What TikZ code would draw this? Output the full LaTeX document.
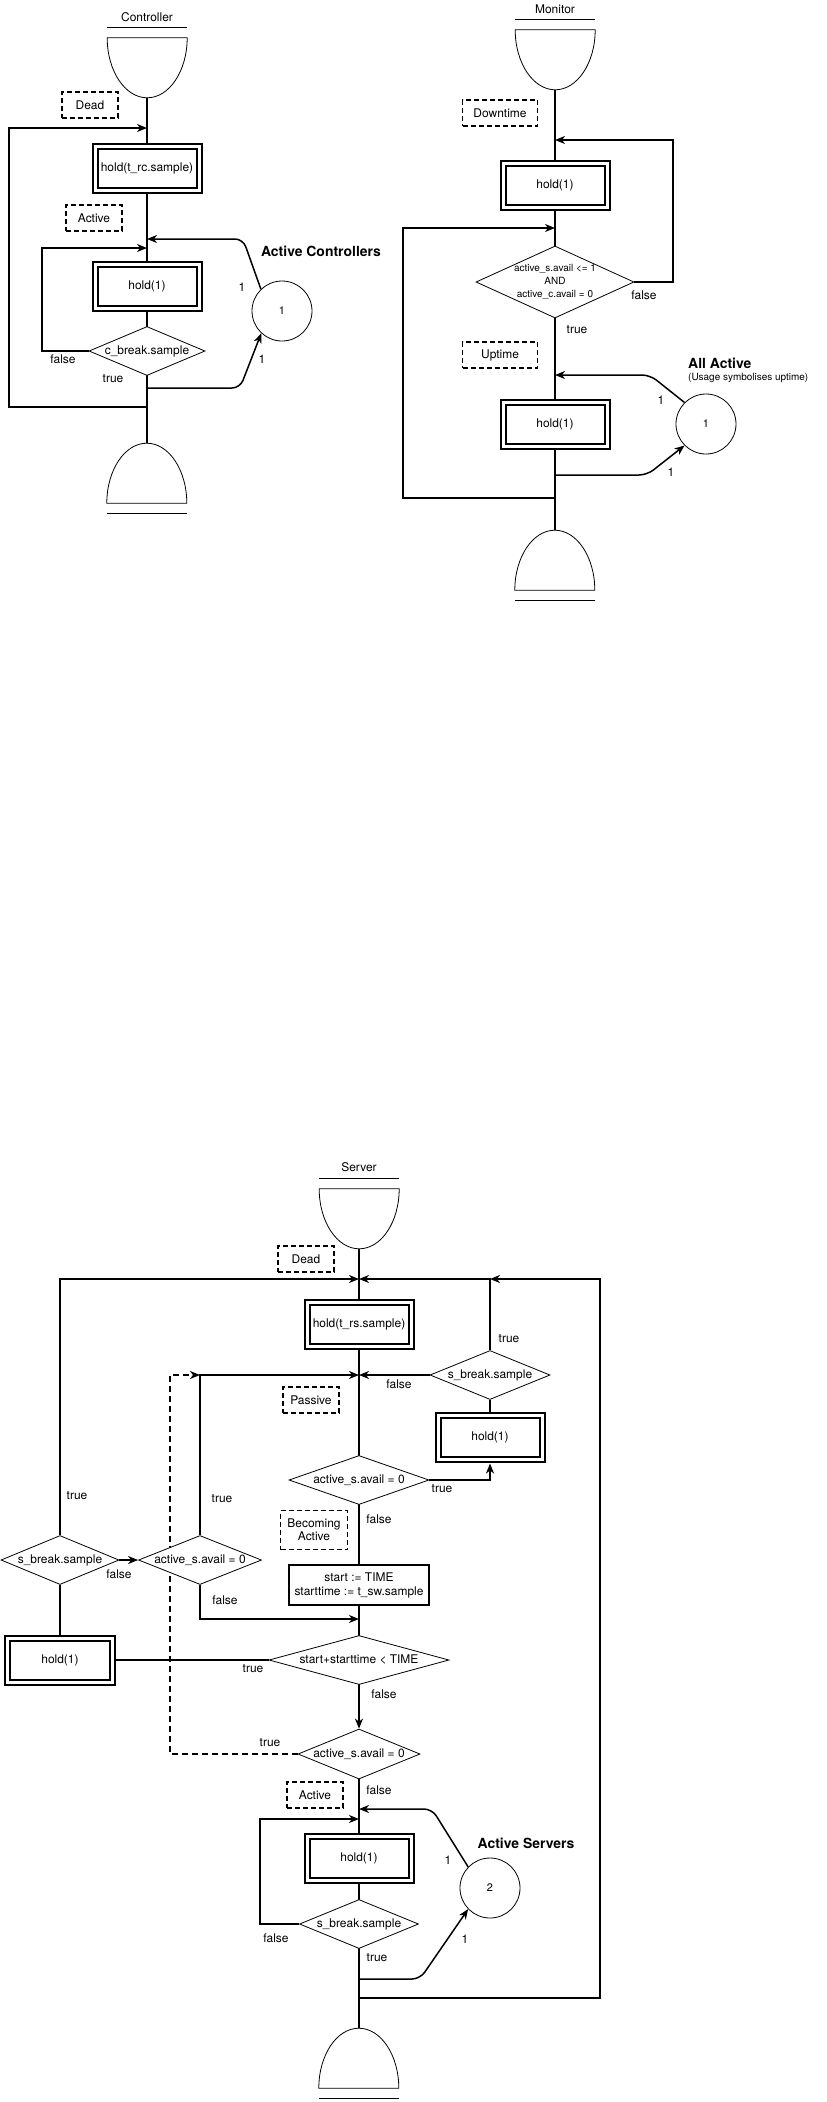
\documentclass[tikz,border=0pt]{standalone}
\usepackage{fontspec}
\setmainfont{TeX Gyre Heros}
\usetikzlibrary{shapes.geometric,arrows.meta,calc}
\pgfdeclarelayer{bg}
\pgfsetlayers{bg,main}
\newcommand\zwbox[1]{\makebox[0pt]{#1}}
\begin{document}
\begin{tikzpicture}[x=1bp,y=-1bp,
  every node/.style={font=\fontsize{12}{14}\selectfont},
  lbl/.style={inner sep=0},
  dbox/.style={draw, line width=2bp, double=white, double distance=3bp, minimum width=104bp, minimum height=44bp, inner sep=0, fill=white},
  sbox/.style={draw, line width=2bp, fill=white, inner sep=0, align=center},
  stbox/.style={draw, dashed, dash pattern=on 5bp off 3bp, line width=1.5bp, fill=white, minimum width=56bp, minimum height=26bp, inner sep=0, align=center},
  dia/.style={diamond, draw, line width=0.8bp, fill=white, inner sep=0},
  circ/.style={circle, draw, line width=0.8bp, fill=white, minimum size=60bp, inner sep=0, font=\fontsize{11}{13}\selectfont},
  conn/.style={line width=1.5bp},
  arr/.style={conn, -{Stealth[length=10bp,width=8bp,inset=3bp]}},
  rc/.style={rounded corners=8bp},
  term/.style={minimum width=80bp, minimum height=60bp, inner sep=0},
  shp/.style={line width=0.8bp},
  big/.style={font=\fontsize{14}{16}\selectfont\bfseries, inner sep=0},
  small/.style={font=\fontsize{10}{12}\selectfont, inner sep=0},
]
\useasboundingbox (0,0) rectangle (827,2102);
\begin{pgfonlayer}{bg}
\fill[white] (0,0) rectangle (827,2102);
\end{pgfonlayer}

% ================= Controller =================
\node[lbl] (ct) at (147,17) {Controller};
\node[term] (cs) at (147,68) {};
\draw[shp,fill=white] (cs.north west) -- (cs.north east) arc[start angle=0,end angle=-180,x radius=40bp,y radius=60bp] -- cycle;
\draw[shp] ($(cs.north west)+(0,-10)$) -- ($(cs.north east)+(0,-10)$);
\node[stbox] (cdead) at (90,105) {Dead};
\node[dbox] (ch1) at (147,168) {hold(t\_rc.sample)};
\node[stbox] (cact) at (94,218) {Active};
\node[dbox] (ch2) at (147,286) {hold(1)};
\node[dia, minimum width=116bp, minimum height=49bp] (cd) at (147,351) {\zwbox{c\_break.sample}};
\node[circ] (cc) at (282,311) {1};
\node[term] (ce) at (147,473) {};
\draw[shp,fill=white] (ce.south west) arc[start angle=180,end angle=0,x radius=40bp,y radius=60bp] -- cycle;
\draw[shp] ($(ce.south west)+(0,10)$) -- ($(ce.south east)+(0,10)$);

\coordinate (cj1) at (147,128);
\coordinate (cj2) at (147,239);
\coordinate (cj3) at (147,248);
\coordinate (cj4) at (147,388);
\coordinate (cj5) at (147,407);
\coordinate (cL) at (9,128);
\coordinate (cF) at (42,248);
\coordinate (cA) at (243,239);
\coordinate (cB) at (240,388);

\begin{pgfonlayer}{bg}
\draw[conn] (cs.south) -- (ce.north);
\draw[arr] (cj5) -| (cL) -- (cj1);
\draw[arr] (cd.west) -| (cF) -- (cj3);
\draw[arr,rc] (cc.134) -- (cA) -- (cj2);
\draw[arr,rc] (cj4) -- (cB) -- (cc.227);
\end{pgfonlayer}

\node[lbl] (cl1) at (63,359) {false};
\node[lbl] (cl2) at (113,379) {true};
\node[lbl] (cl3) at (242,287) {1};
\node[lbl] (cl4) at (262,359) {1};
\node[big] (cl5) at (321,251) {Active Controllers};

% ================= Monitor =================
\node[lbl] (mt) at (555,9) {Monitor};
\node[term] (ms) at (555,60) {};
\draw[shp,fill=white] (ms.north west) -- (ms.north east) arc[start angle=0,end angle=-180,x radius=40bp,y radius=60bp] -- cycle;
\draw[shp] ($(ms.north west)+(0,-10)$) -- ($(ms.north east)+(0,-10)$);
\node[stbox, minimum width=75bp] (mdown) at (500,113) {Downtime};
\node[dbox] (mh1) at (555,185) {hold(1)};
\node[dia, minimum width=158bp, minimum height=72bp] (md) at (555,282) {\zwbox{\fontsize{10}{13}\selectfont\begin{tabular}{@{}c@{}}active\_s.avail <= 1\\AND\\active\_c.avail = 0\end{tabular}}};
\node[stbox, minimum width=75bp] (mup) at (500,355) {Uptime};
\node[dbox] (mh2) at (555,424) {hold(1)};
\node[circ] (mc) at (706,424) {1};
\node[term] (me) at (555,560) {};
\draw[shp,fill=white] (me.south west) arc[start angle=180,end angle=0,x radius=40bp,y radius=60bp] -- cycle;
\draw[shp] ($(me.south west)+(0,10)$) -- ($(me.south east)+(0,10)$);

\coordinate (mj1) at (555,140);
\coordinate (mj2) at (555,228);
\coordinate (mj3) at (555,375);
\coordinate (mj4) at (555,475);
\coordinate (mj5) at (555,498);
\coordinate (mR) at (673,140);
\coordinate (mL) at (403,228);
\coordinate (mA) at (650,375);
\coordinate (mB) at (647,475);

\begin{pgfonlayer}{bg}
\draw[conn] (ms.south) -- (me.north);
\draw[arr] (md.east) -| (mR) -- (mj1);
\draw[arr] (mj5) -| (mL) -- (mj2);
\draw[arr,rc] (mc.135) -- (mA) -- (mj3);
\draw[arr,rc] (mj4) -- (mB) -- (mc.225);
\end{pgfonlayer}

\node[lbl] (ml1) at (644,295) {false};
\node[lbl] (ml2) at (577,330) {true};
\node[lbl] (ml3) at (661,400) {1};
\node[lbl] (ml4) at (671,472) {1};
\node[big, anchor=west] (ml5) at (688,363) {All Active};
\node[small, anchor=west] (ml6) at (688,378) {(Usage symbolises uptime)};

% ================= Server =================
\node[lbl] (st) at (359,1167) {Server};
\node[term] (ss) at (359,1219) {};
\draw[shp,fill=white] (ss.north west) -- (ss.north east) arc[start angle=0,end angle=-180,x radius=40bp,y radius=60bp] -- cycle;
\draw[shp] ($(ss.north west)+(0,-10)$) -- ($(ss.north east)+(0,-10)$);
\node[stbox] (sdead) at (306,1259) {Dead};
\node[dbox] (sh1) at (359,1324) {hold(t\_rs.sample)};
\node[dia, minimum width=120bp, minimum height=49bp] (sb1) at (490,1375) {\zwbox{s\_break.sample}};
\node[stbox] (spas) at (311,1400) {Passive};
\node[dbox] (sh2) at (490,1437) {hold(1)};
\node[dia, minimum width=140bp, minimum height=49bp] (sd1) at (359,1480) {\zwbox{active\_s.avail = 0}};
\node[stbox, minimum width=67bp, minimum height=39bp, font=\fontsize{12}{13}\selectfont] (sbec) at (314,1530) {Becoming\\Active};
\node[dia, minimum width=118bp, minimum height=49bp] (sb2) at (60,1560) {\zwbox{s\_break.sample}};
\node[dia, minimum width=123bp, minimum height=49bp] (sd2) at (200,1560) {\zwbox{active\_s.avail = 0}};
\node[sbox, minimum width=140bp, minimum height=40bp] (sst) at (359,1585) {start := TIME\\starttime := t\_sw.sample};
\node[dbox] (sh3) at (60,1660) {hold(1)};
\node[dia, minimum width=180bp, minimum height=49bp] (sd3) at (359,1660) {\zwbox{start+starttime < TIME}};
\node[dia, minimum width=122bp, minimum height=50bp] (sd4) at (359,1754) {\zwbox{active\_s.avail = 0}};
\node[stbox] (sact) at (315,1795) {Active};
\node[dbox] (sh4) at (359,1858) {hold(1)};
\node[dia, minimum width=119bp, minimum height=49bp] (sb3) at (359,1924) {\zwbox{s\_break.sample}};
\node[circ] (sc) at (490,1888) {2};
\node[term] (se) at (359,2058) {};
\draw[shp,fill=white] (se.south west) arc[start angle=180,end angle=0,x radius=40bp,y radius=60bp] -- cycle;
\draw[shp] ($(se.south west)+(0,10)$) -- ($(se.south east)+(0,10)$);

\coordinate (sj1) at (359,1279);
\coordinate (sT) at (490,1279);
\coordinate (sR) at (600,1279);
\coordinate (sj2) at (359,1375);
\coordinate (sK) at (200,1375);
\coordinate (sD) at (170,1375);
\coordinate (sj3) at (359,1619);
\coordinate (sj4) at (359,1809);
\coordinate (sj5) at (359,1819);
\coordinate (sF) at (260,1819);
\coordinate (sj6) at (359,1979);
\coordinate (sj7) at (359,1998);
\coordinate (sA) at (432,1809);
\coordinate (sB) at (420,1979);

\begin{pgfonlayer}{bg}
\draw[conn] (ss.south) -- (sd3.south);
\draw[arr] (sd3.south) -- (sd4.north);
\draw[conn] (sd4.south) -- (se.north);
\draw[arr] (sb2.north) |- (sj1);
\draw[arr] (sj7) -| (sR) -- (sT);
\draw[arr] (sb1.north) |- (sj1);
\draw[arr] (sb1.west) -- (sj2);
\draw[conn] (sb1.south) -- (sh2.north);
\draw[arr, shorten >=3.5bp] (sd1.east) -| (sh2.south);
\draw[arr] (sd2.north) |- (sj2);
\draw[arr] (sd2.south) |- (sj3);
\draw[arr] (sb2.east) -- (sd2.west);
\draw[conn] (sb2.south) -- (sh3.north);
\draw[conn] (sd3.west) -- (sh3.east);
\draw[arr, dashed, dash pattern=on 6bp off 4bp] (sd4.west) -| (sD) -- (sK);
\draw[arr] (sb3.west) -| (sF) -- (sj5);
\draw[arr,rc] (sc.136) -- (sA) -- (sj4);
\draw[arr,rc] (sj6) -- (sB) -- (sc.224);
\end{pgfonlayer}

\node[lbl] (sl1) at (509,1339) {true};
\node[lbl] (sl2) at (399,1384) {false};
\node[lbl] (sl3) at (442,1489) {true};
\node[lbl] (sl4) at (379,1519) {false};
\node[lbl] (sl5) at (77,1496) {true};
\node[lbl] (sl6) at (222,1499) {true};
\node[lbl] (sl7) at (119,1574) {false};
\node[lbl] (sl8) at (225,1600) {false};
\node[lbl] (sl9) at (253,1669) {true};
\node[lbl] (sl10) at (384,1694) {false};
\node[lbl] (sl11) at (270,1743) {true};
\node[lbl] (sl12) at (379,1790) {false};
\node[lbl] (sl13) at (276,1938) {false};
\node[lbl] (sl14) at (377,1958) {true};
\node[lbl] (sl15) at (448,1860) {1};
\node[lbl] (sl16) at (465,1939) {1};
\node[big] (sl17) at (526,1843) {Active Servers};
\end{tikzpicture}
\end{document}
